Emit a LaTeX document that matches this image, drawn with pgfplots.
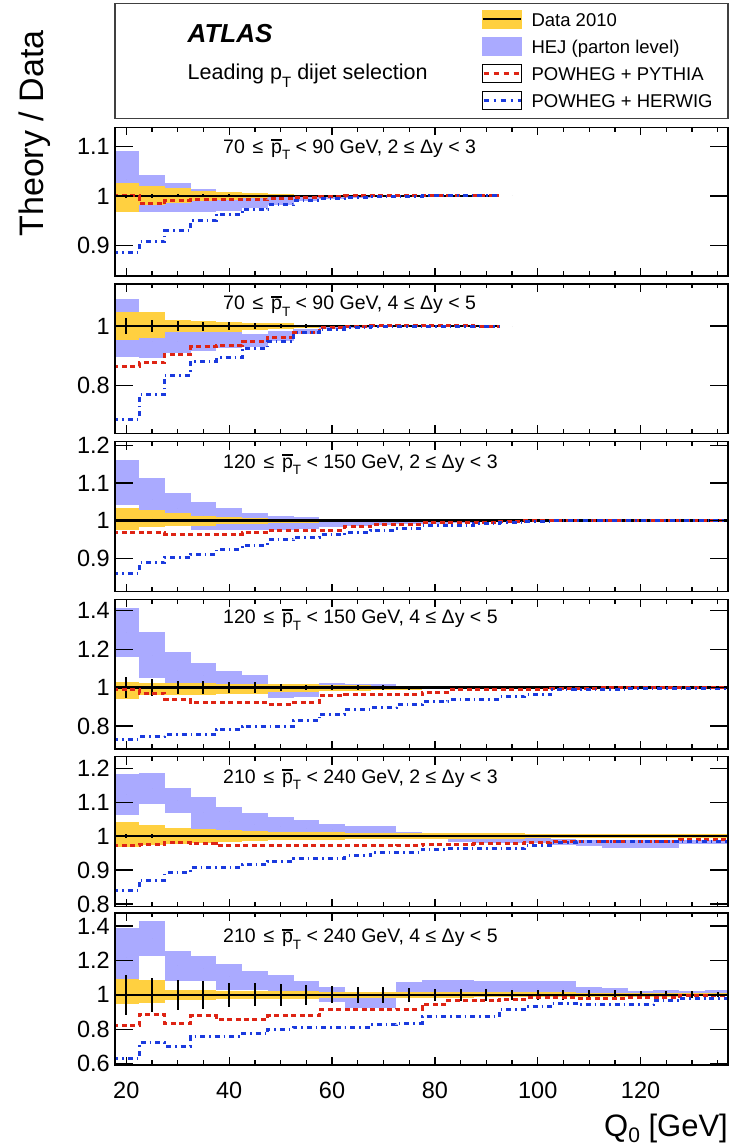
\documentclass[border=0pt]{standalone}
\usepackage{fontspec}
\setmainfont{Liberation Sans}
\usepackage{pgfplots}
\usepackage{pgfplotstable}
\pgfplotsset{compat=1.18}

\definecolor{hej}{RGB}{170,170,255}
\definecolor{datay}{RGB}{255,208,64}
\definecolor{pyred}{RGB}{222,36,20}
\definecolor{hwblue}{RGB}{26,58,222}

\newcommand{\fs}[1]{\fontsize{#1}{#1}\selectfont}
\newcommand{\pTbar}{\makebox[0pt][l]{\rule[0.64em]{0.55em}{0.1em}}p\raisebox{-0.32em}{\fs{13.5}T}}

% columns: left bin edge, HEJ low/high, data band low/high, POWHEG+PYTHIA, POWHEG+HERWIG, data stat. error
\pgfplotstableread{
xl hlo hhi dlo dhi py hw err
17.5 0.975 1.090 0.968 1.025 1.000 0.886 0.004
22.5 0.967 1.042 0.982 1.020 0.984 0.908 0.004
27.5 0.968 1.025 0.985 1.015 0.991 0.930 0.003
32.5 0.968 1.013 0.990 1.010 0.992 0.950 0.003
37.5 0.970 1.005 0.992 1.008 0.992 0.963 0.003
42.5 0.975 1.002 0.995 1.005 0.992 0.973 0.002
47.5 0.982 1.000 0.997 1.003 0.994 0.982 0.002
52.5 0.990 1.000 0.998 1.002 0.997 0.990 0.002
57.5 0.994 1.000 0.999 1.001 0.999 0.994 0.002
62.5 0.997 1.000 0.999 1.001 1.000 0.997 0.002
67.5 0.998 1.000 0.999 1.001 1.000 0.998 0.002
72.5 0.999 1.000 0.999 1.001 1.000 0.999 0.002
77.5 0.999 1.000 0.999 1.001 1.000 1.000 0.002
82.5 0.999 1.000 0.999 1.001 1.000 1.000 0.002
87.5 0.999 1.000 0.999 1.001 1.000 1.000 0.002
92.5 1.000 1.000 1.000 1.000 1.000 1.000 0
}\tA

\pgfplotstableread{
xl hlo hhi dlo dhi py hw err
17.5 0.897 1.090 0.953 1.046 0.866 0.687 0.027
22.5 0.894 1.000 0.959 1.046 0.878 0.771 0.021
27.5 0.910 0.990 0.981 1.020 0.905 0.836 0.016
32.5 0.915 0.980 0.981 1.017 0.931 0.883 0.015
37.5 0.925 0.985 0.981 1.015 0.936 0.894 0.013
42.5 0.930 0.975 0.987 1.009 0.948 0.925 0.010
47.5 0.950 0.985 0.990 1.009 0.961 0.950 0.008
52.5 0.975 0.990 0.995 1.005 0.978 0.978 0.006
57.5 0.990 1.000 0.997 1.003 0.996 0.990 0.004
62.5 0.997 1.000 0.998 1.002 1.000 0.996 0.003
67.5 0.998 1.000 0.999 1.001 1.002 0.999 0.002
72.5 0.999 1.000 0.999 1.001 1.003 1.000 0.002
77.5 0.999 1.000 0.999 1.001 1.002 1.000 0.002
82.5 0.999 1.000 0.999 1.001 1.001 1.000 0.002
87.5 0.999 1.000 0.999 1.001 1.000 1.000 0.002
92.5 1.000 1.000 1.000 1.000 1.000 1.000 0
}\tB

\pgfplotstableread{
xl hlo hhi dlo dhi py hw err
17.5 1.042 1.161 0.975 1.033 0.969 0.860 0.004
22.5 1.000 1.113 0.984 1.027 0.969 0.888 0.004
27.5 0.990 1.074 0.985 1.020 0.964 0.902 0.003
32.5 0.975 1.050 0.987 1.012 0.964 0.911 0.003
37.5 0.975 1.033 0.990 1.009 0.964 0.924 0.003
42.5 0.975 1.021 0.992 1.006 0.969 0.935 0.003
47.5 0.976 1.012 0.994 1.005 0.975 0.949 0.002
52.5 0.978 1.010 0.995 1.005 0.975 0.955 0.002
57.5 0.982 1.000 0.996 1.004 0.975 0.962 0.002
62.5 0.985 1.000 0.996 1.004 0.984 0.968 0.002
67.5 0.988 1.000 0.997 1.003 0.990 0.975 0.002
72.5 0.990 1.000 0.997 1.003 0.990 0.980 0.002
77.5 0.992 1.000 0.997 1.003 0.996 0.987 0.002
82.5 0.994 1.000 0.997 1.003 0.996 0.988 0.002
87.5 0.996 1.000 0.997 1.003 0.996 0.993 0.002
92.5 0.998 1.000 0.997 1.003 0.998 0.996 0.002
97.5 0.999 1.000 0.997 1.003 1.000 0.999 0.002
102.5 0.999 1.000 0.997 1.003 1.000 1.000 0.002
107.5 0.999 1.000 0.997 1.003 1.000 1.000 0.002
112.5 0.999 1.000 0.997 1.003 1.000 1.000 0.002
117.5 0.999 1.000 0.997 1.003 1.000 1.000 0.002
122.5 0.999 1.000 0.997 1.003 1.000 1.000 0.002
127.5 0.999 1.000 0.997 1.003 1.000 1.000 0.002
132.5 0.999 1.000 0.997 1.003 1.000 1.000 0.002
137.5 1.000 1.000 1.000 1.000 1.000 1.000 0
}\tC

\pgfplotstableread{
xl hlo hhi dlo dhi py hw err
17.5 1.161 1.413 0.941 1.028 0.990 0.733 0.055
22.5 1.052 1.288 0.962 1.023 0.970 0.745 0.045
27.5 1.000 1.184 0.962 1.023 0.941 0.754 0.035
32.5 1.000 1.127 0.962 1.023 0.924 0.754 0.035
37.5 0.990 1.087 0.965 1.020 0.924 0.780 0.030
42.5 0.980 1.066 0.965 1.020 0.924 0.797 0.030
47.5 0.944 0.979 0.979 1.017 0.913 0.797 0.017
52.5 0.953 0.979 0.979 1.017 0.924 0.827 0.013
57.5 0.990 1.023 0.983 1.015 0.958 0.863 0.012
62.5 0.995 1.017 0.985 1.013 0.962 0.884 0.012
67.5 0.995 1.017 0.988 1.010 0.962 0.896 0.012
72.5 0.990 1.005 0.990 1.008 0.962 0.913 0.010
77.5 0.995 1.003 0.994 1.006 0.976 0.927 0.008
82.5 0.995 1.003 0.995 1.005 0.988 0.939 0.006
87.5 0.996 1.002 0.996 1.004 0.988 0.941 0.005
92.5 0.996 1.002 0.996 1.004 0.988 0.953 0.004
97.5 0.997 1.002 0.997 1.003 0.988 0.962 0.004
102.5 0.998 1.001 0.997 1.003 0.997 0.991 0.003
107.5 0.998 1.001 0.997 1.003 0.998 0.991 0.003
112.5 0.999 1.001 0.998 1.002 0.999 0.991 0.003
117.5 0.999 1.001 0.998 1.002 1.000 0.997 0.003
122.5 0.999 1.001 0.998 1.002 1.000 0.997 0.003
127.5 0.999 1.001 0.998 1.002 1.000 0.997 0.003
132.5 0.999 1.001 0.998 1.002 1.000 0.998 0.003
137.5 1.000 1.000 1.000 1.000 1.000 0.998 0
}\tD

\pgfplotstableread{
xl hlo hhi dlo dhi py hw err
17.5 1.062 1.183 0.969 1.042 0.972 0.839 0.005
22.5 1.096 1.185 0.973 1.034 0.975 0.870 0.005
27.5 1.067 1.142 0.978 1.023 0.981 0.893 0.004
32.5 1.021 1.116 0.980 1.021 0.978 0.907 0.004
37.5 1.000 1.086 0.983 1.018 0.972 0.907 0.004
42.5 1.000 1.067 0.986 1.015 0.972 0.916 0.004
47.5 1.000 1.057 0.989 1.011 0.972 0.926 0.003
52.5 1.000 1.047 0.989 1.011 0.972 0.934 0.003
57.5 1.000 1.037 0.989 1.011 0.972 0.934 0.003
62.5 1.000 1.030 0.992 1.008 0.972 0.942 0.003
67.5 1.000 1.030 0.992 1.008 0.972 0.952 0.003
72.5 0.995 1.013 0.992 1.008 0.973 0.952 0.003
77.5 0.992 1.008 0.992 1.008 0.976 0.962 0.003
82.5 0.982 0.996 0.992 1.008 0.976 0.964 0.003
87.5 0.981 0.995 0.992 1.008 0.978 0.964 0.003
92.5 0.981 0.995 0.992 1.008 0.978 0.964 0.003
97.5 0.980 0.994 0.994 1.006 0.981 0.972 0.003
102.5 0.975 0.992 0.995 1.005 0.985 0.981 0.003
107.5 0.970 0.990 0.995 1.005 0.985 0.983 0.003
112.5 0.966 0.990 0.995 1.005 0.985 0.983 0.003
117.5 0.966 0.990 0.995 1.005 0.985 0.983 0.003
122.5 0.966 0.990 0.995 1.005 0.985 0.983 0.003
127.5 0.977 0.990 0.995 1.005 0.991 0.985 0.003
132.5 0.977 0.990 0.995 1.005 0.991 0.985 0.003
137.5 1.000 1.000 1.000 1.000 0.991 0.985 0
}\tE

\pgfplotstableread{
xl hlo hhi dlo dhi py hw err
17.5 1.040 1.388 0.948 1.091 0.822 0.628 0.118
22.5 1.223 1.426 0.950 1.085 0.884 0.723 0.100
27.5 1.083 1.252 0.971 1.029 0.835 0.703 0.088
32.5 1.083 1.223 0.971 1.029 0.878 0.758 0.083
37.5 1.030 1.180 0.975 1.025 0.855 0.758 0.070
42.5 1.030 1.140 0.975 1.025 0.859 0.773 0.066
47.5 1.020 1.116 0.975 1.025 0.878 0.800 0.062
52.5 1.000 1.083 0.975 1.025 0.878 0.812 0.058
57.5 0.961 1.048 0.981 1.019 0.913 0.812 0.050
62.5 0.926 1.019 0.981 1.019 0.913 0.812 0.045
67.5 0.926 1.019 0.981 1.019 0.913 0.826 0.045
72.5 0.986 1.072 0.981 1.019 0.917 0.835 0.040
77.5 0.990 1.087 0.983 1.017 0.946 0.874 0.036
82.5 0.990 1.087 0.983 1.017 0.967 0.874 0.036
87.5 0.990 1.078 0.985 1.015 0.967 0.874 0.036
92.5 0.990 1.083 0.986 1.014 0.975 0.917 0.031
97.5 0.990 1.078 0.986 1.014 0.986 0.932 0.031
102.5 0.990 1.078 0.986 1.014 0.986 0.952 0.031
107.5 0.992 1.048 0.988 1.012 0.980 0.942 0.031
112.5 0.992 1.039 0.988 1.012 0.980 0.942 0.031
117.5 0.994 1.025 0.990 1.010 0.983 0.942 0.024
122.5 0.994 1.029 0.990 1.010 0.983 0.967 0.024
127.5 0.995 1.025 0.992 1.008 0.994 0.981 0.020
132.5 0.995 1.029 0.992 1.008 0.994 0.981 0.015
137.5 1.000 1.000 1.000 1.000 0.994 0.981 0
}\tF

\pgfplotsset{
  panel/.style={
    scale only axis, width=613pt, anchor=south west,
    xmin=17.8, xmax=137,
    axis on top,
    axis line style={line width=1.5pt},
    tick align=inside, tick pos=both,
    xtick={20,40,60,80,100,120},
    minor xtick={25,30,35,45,50,55,65,70,75,85,90,95,105,110,115,125,130,135},
    xticklabels={},
    x tick style={line width=1.3pt, black, /pgfplots/major tick length=8pt, /pgfplots/minor tick length=4.5pt},
    y tick style={line width=1.3pt, black, /pgfplots/major tick length=18pt},
    tick label style={font=\fs{23.5}},
    /pgf/number format/assume math mode=true,
    yticklabel style={inner sep=0pt, xshift=-5pt},
    xticklabel style={inner sep=0pt, yshift=-17pt},
  },
  nomark/.style={only marks, mark size=0pt, mark options={draw=none, fill=none}},
}

% a band of boxes, one per 5 GeV bin, drawn as wide vertical bars from the low to the high value
\newcommand{\band}[4]{%
  \addplot[nomark, forget plot, error bars/.cd, y dir=both, y explicit, error mark=none,
     error bar style={line width=25.9pt, draw=#4}]
     table[x expr=\thisrow{xl}+2.5, y expr=(\thisrow{#2}+\thisrow{#3})/2,
           y error expr=(\thisrow{#3}-\thisrow{#2})/2]{#1};
}

\newcommand{\drawpanel}[1]{%
  \band{#1}{hlo}{hhi}{hej}
  \band{#1}{dlo}{dhi}{datay}
  \addplot[black, line width=2.4pt, forget plot] table[x=xl, y expr=1]{#1};
  \addplot[nomark, forget plot, error bars/.cd, y dir=both, y explicit, error mark=none,
     error bar style={line width=2pt, draw=black}] table[x expr=\thisrow{xl}+2.5, y expr=1, y error=err]{#1};
  \addplot[pyred, const plot, line width=3pt, dash pattern=on 5pt off 3.5pt, forget plot] table[x=xl,y=py]{#1};
  \addplot[hwblue, const plot, line width=3pt, dash pattern=on 5pt off 4pt on 1.5pt off 4pt, forget plot] table[x=xl,y=hw]{#1};
}

\newcommand{\ptitle}[3]{\node[anchor=base west, inner sep=0pt, font=\fs{19.5}, yshift=-#1pt] at (rel axis cs:0.1762,1) {#2\hspace{0.4em}≤\hspace{0.4em}\pTbar{} < #3};}

\begin{document}
\begin{tikzpicture}
\useasboundingbox (0pt,0pt) rectangle (733pt,1148pt);

% header box with legend
\begin{axis}[at={(115pt,1029.7pt)}, anchor=south west, scale only axis, width=613pt, height=115pt,
  xmin=0, xmax=1, ymin=0, ymax=1, xtick=\empty, ytick=\empty,
  axis line style={line width=1.5pt, black!75},
  legend cell align=left,
  legend style={at={(0.5979,0.94)}, anchor=north west, draw=none, fill=none,
    inner sep=0pt, outer sep=0pt, row sep=8.6pt, column sep=9pt, font=\fs{18.5},
    nodes={inner sep=0pt, text height=13.3pt, text depth=0pt}}]
\addplot[draw=none, forget plot] coordinates {(0,0) (1,1)};
\addlegendimage{legend image code/.code={\fill[datay] (0pt,-9pt) rectangle (38.5pt,9pt);
   \draw[black, line width=2pt] (0pt,0pt) -- (38.5pt,0pt);}}
\addlegendentry{Data 2010}
\addlegendimage{legend image code/.code={\fill[hej] (0pt,-9pt) rectangle (38.5pt,9pt);}}
\addlegendentry{HEJ (parton level)}
\addlegendimage{legend image code/.code={\path (0pt,-9pt) rectangle (38.5pt,9pt);
   \draw[pyred, line width=3pt, dash pattern=on 5pt off 5pt] (1pt,0pt) -- (38.5pt,0pt);}}
\addlegendentry{POWHEG + PYTHIA}
\addlegendimage{legend image code/.code={\path (0pt,-9pt) rectangle (38.5pt,9pt);
   \draw[hwblue, line width=3pt, dash pattern=on 5pt off 5pt on 2pt off 5pt] (1pt,0pt) -- (38.5pt,0pt);}}
\addlegendentry{POWHEG + HERWIG}
\end{axis}

\node[anchor=base west, inner sep=0pt, font=\fs{26}\bfseries\itshape] at (187.5pt,1105.3pt) {ATLAS};
\node[anchor=base west, inner sep=0pt, font=\fs{21.5}] at (187.5pt,1068pt) {Leading p\raisebox{-0.35em}{\fs{15}T} dijet selection};

% panel 1
\begin{axis}[panel, at={(115pt,872pt)}, height=148.7pt, ymin=0.839, ymax=1.138, ytick={0.9,1,1.1}]
\drawpanel{\tA}
\ptitle{26}{70}{90 GeV, 2 ≤ Δy < 3}
\end{axis}

% panel 2
\begin{axis}[panel, at={(115pt,714.7pt)}, height=149.3pt, ymin=0.641, ymax=1.141, ytick={0.8,1}]
\drawpanel{\tB}
\ptitle{26}{70}{90 GeV, 4 ≤ Δy < 5}
\end{axis}

% panel 3
\begin{axis}[panel, at={(115pt,556.3pt)}, height=150pt, ymin=0.811, ymax=1.21, ytick={0.9,1,1.1,1.2}]
\drawpanel{\tC}
\ptitle{26.5}{120}{150 GeV, 2 ≤ Δy < 3}
\end{axis}

% panel 4
\begin{axis}[panel, at={(115pt,399pt)}, height=149.7pt, ymin=0.681, ymax=1.46, ytick={0.8,1,1.2,1.4}]
\drawpanel{\tD}
\ptitle{24.5}{120}{150 GeV, 4 ≤ Δy < 5}
\end{axis}

% panel 5
\begin{axis}[panel, at={(115pt,241.3pt)}, height=150pt, ymin=0.792, ymax=1.234, ytick={0.8,0.9,1,1.1,1.2}]
\drawpanel{\tE}
\ptitle{26.5}{210}{240 GeV, 2 ≤ Δy < 3}
\end{axis}

% panel 6
\begin{axis}[panel, at={(115pt,83pt)}, height=152pt, ymin=0.593, ymax=1.475, ytick={0.6,0.8,1,1.2,1.4},
  xticklabels={20,40,60,80,100,120}]
\drawpanel{\tF}
\ptitle{30}{210}{240 GeV, 4 ≤ Δy < 5}
\end{axis}

\node[rotate=90, anchor=base west, inner sep=0pt, font=\fs{34}] at (43.3pt,911.3pt) {Theory / Data};
\node[anchor=base east, inner sep=0pt, font=\fs{31}] at (728pt,12pt) {Q\raisebox{-0.22em}{\fs{21}0} [GeV]};
\end{tikzpicture}
\end{document}
